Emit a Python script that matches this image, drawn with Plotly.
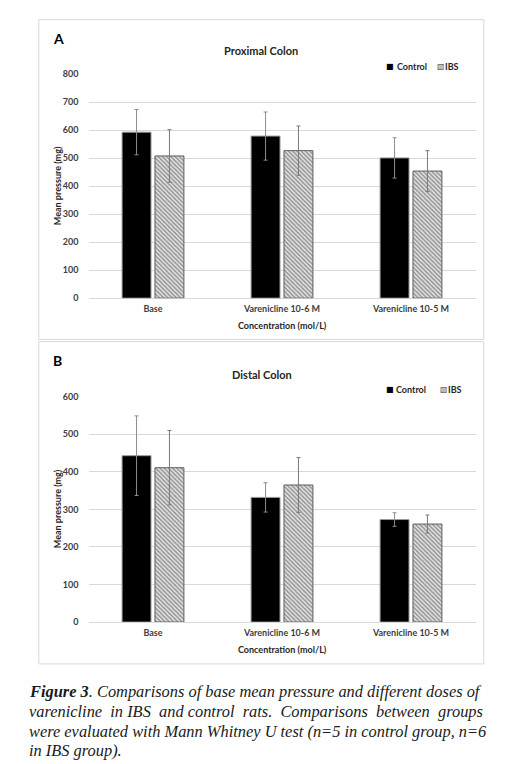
import plotly.graph_objects as go

categories = ["Base", "Varenicline 10-6 M", "Varenicline 10-5 M"]
series_names = ["Control", "IBS"]

prox_control = [593, 579, 501]
prox_control_err = [81, 86, 72]
prox_ibs = [508, 527, 454]
prox_ibs_err = [94, 88, 73]

dist_control = [443, 332, 273]
dist_control_err = [106, 39, 18]
dist_ibs = [411, 365, 261]
dist_ibs_err = [99, 73, 24]

W, H = 505, 764
# empirical page-placement correction (page offset / scaling of the capture)
def px(x): return (x - 8.5) / W
def py(y): return 1 - ((y - 14.6) / 0.984) / H

TICK_FONT = dict(family="Lato", size=9, color="#404040", weight="bold")
BOLD_FONT = "Lato"

fig = go.Figure()

def add_pair(ctrl, ctrl_err, ibs, ibs_err, xa, ya):
    fig.add_trace(go.Bar(
        x=categories, y=ctrl, name=series_names[0], xaxis=xa, yaxis=ya,
        marker=dict(color="black", line=dict(color="#9a9a9a", width=1)),
        error_y=dict(type="data", array=ctrl_err, color="#8c8c8c", thickness=1, width=2),
        offsetgroup="c", showlegend=False,
    ))
    fig.add_trace(go.Bar(
        x=categories, y=ibs, name=series_names[1], xaxis=xa, yaxis=ya,
        marker=dict(color="#e6e6e6", line=dict(color="#5e5e5e", width=1),
                    pattern=dict(shape="\\", fgcolor="#404040", bgcolor="#e6e6e6",
                                 size=3, solidity=0.5)),
        error_y=dict(type="data", array=ibs_err, color="#7a7a7a", thickness=1, width=2),
        offsetgroup="i", showlegend=False,
    ))

add_pair(prox_control, prox_control_err, prox_ibs, prox_ibs_err, "x", "y")
add_pair(dist_control, dist_control_err, dist_ibs, dist_ibs_err, "x2", "y2")

xdom = [px(89), px(476)]
axis_common = dict(showline=False, tickfont=TICK_FONT)

fig.update_layout(
    width=W, height=H, margin=dict(l=0, r=0, t=0, b=0),
    paper_bgcolor="white", plot_bgcolor="white",
    barmode="group", bargap=0.49, bargroupgap=0.12,
    xaxis=dict(domain=xdom, anchor="y", showgrid=False, ticks="", ticklabelstandoff=4,
               **axis_common),
    yaxis=dict(domain=[py(298.3), py(74.7)], anchor="x", range=[0, 800], dtick=100,
               showgrid=True, gridcolor="#d9d9d9", gridwidth=1, zeroline=True,
               zerolinecolor="#d9d9d9", zerolinewidth=1, ticks="", ticklabelstandoff=9,
               **axis_common),
    xaxis2=dict(domain=xdom, anchor="y2", showgrid=False, ticks="", ticklabelstandoff=4,
                **axis_common),
    yaxis2=dict(domain=[py(621.7), py(396.7)], anchor="x2", range=[0, 600], dtick=100,
                showgrid=True, gridcolor="#d9d9d9", gridwidth=1, zeroline=True,
                zerolinecolor="#d9d9d9", zerolinewidth=1, ticks="", ticklabelstandoff=9,
                **axis_common),
    showlegend=False,
)

# panel frames
for (y0, y1) in [(20.3, 339.5), (341.7, 663.5)]:
    fig.add_shape(type="rect", xref="paper", yref="paper",
                  x0=px(39.3), x1=px(484.3), y0=py(y1), y1=py(y0),
                  line=dict(color="#d9d9d9", width=1), fillcolor="rgba(0,0,0,0)", layer="below")

ann = []
def text(x, y, s, size, anchor="center", angle=0, color="#262626", family=BOLD_FONT, bold=True):
    t = "<b>" + s + "</b>" if bold else s
    ann.append(dict(x=px(x), y=py(y), xref="paper", yref="paper", text=t, showarrow=False,
                    xanchor=anchor, yanchor="middle", textangle=angle,
                    font=dict(family=family, size=size, color=color)))

# panel A
text(51, 39.3, "A", 14, anchor="left", color="black")
text(261.5, 51.5, "Proximal Colon", 11)
text(57.5, 186.5, "Mean pressure (mg)", 9, angle=-90)
text(282.5, 326, "Concentration (mol/L)", 9)
# legend A (manual)
text(384.5, 67, "■", 8, anchor="left", color="black", family="DejaVu Sans", bold=False)
text(395, 67, series_names[0], 9, anchor="left")
text(435.5, 67, "▧", 8, anchor="left", color="#555555", family="DejaVu Sans", bold=False)
text(443.5, 67, series_names[1], 9, anchor="left")

# panel B
text(51, 361, "B", 14, anchor="left", color="black")
text(262.5, 375, "Distal Colon", 11)
text(57.5, 509, "Mean pressure (mg)", 9, angle=-90)
text(282.5, 649.3, "Concentration (mol/L)", 9)
# legend B (manual)
text(384, 389.7, "■", 8, anchor="left", color="black", family="DejaVu Sans", bold=False)
text(394.5, 389.7, series_names[0], 9, anchor="left")
text(438, 389.7, "▧", 8, anchor="left", color="#555555", family="DejaVu Sans", bold=False)
text(446, 389.7, series_names[1], 9, anchor="left")

# caption
NB = "&nbsp;"
line2_words = ["varenicline", "in", "IBS", "and", "control", "rats.", "Comparisons", "between", "groups"]
line2 = ""
for i, wd in enumerate(line2_words):
    if i == 0:
        line2 = wd
    else:
        sep = " " + NB if i in (1, 3, 5, 6, 7, 8) else " "
        line2 += sep + wd
cap_lines = [
    "<b>Figure 3</b>. Comparisons of base mean pressure and different doses of",
    line2,
    "were evaluated with Mann Whitney U test (n=5 in control group, n=6",
    "in IBS group).",
]
cap_y = [690.7, 710.7, 730.5, 750]
for s, y in zip(cap_lines, cap_y):
    ann.append(dict(x=px(27), y=py(y), xref="paper", yref="paper", text="<i>" + s + "</i>",
                    showarrow=False, xanchor="left", yanchor="middle",
                    font=dict(family="Liberation Serif", size=16.4, color="#1a1a1a")))

fig.update_layout(annotations=ann)
fig.write_html("out.html")
